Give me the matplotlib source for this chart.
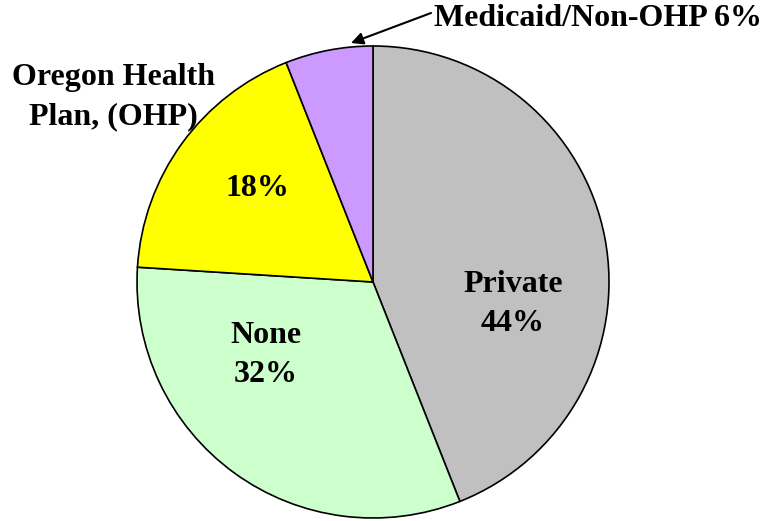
import matplotlib.pyplot as plt

# Health insurance coverage shares (%), clockwise from 12 o'clock
categories = ['Private', 'None', 'Oregon Health Plan, (OHP)', 'Medicaid/Non-OHP']
shares = [44, 32, 18, 6]
colors = ['#C0C0C0', '#CCFFCC', '#FFFF00', '#CC99FF']

plt.rcParams['font.family'] = ['Liberation Serif', 'DejaVu Serif']
plt.rcParams['font.weight'] = 'bold'

W, H = 764, 521
fig = plt.figure(figsize=(W / 100, H / 100), dpi=100)
ax = fig.add_axes([0, 0, 1, 1])

# pie drawn in pixel coordinates (y flipped, so counterclock=True reads clockwise)
cx, cy, r = 373, 282, 236
ax.pie(shares, colors=colors, startangle=-90, counterclock=True,
       center=(cx, cy), radius=r, frame=True,
       wedgeprops=dict(edgecolor='black', linewidth=1.2))
ax.set_xlim(0, W)
ax.set_ylim(H, 0)
ax.set_aspect('equal')
ax.axis('off')

fs = 23
ls = 1.45
ax.text(513, 304, f'{categories[0]}\n{shares[0]}%', ha='center', va='center',
        fontsize=fs, fontweight='bold', linespacing=ls)
ax.text(266, 355, f'{categories[1]}\n{shares[1]}%', ha='center', va='center',
        fontsize=fs, fontweight='bold', linespacing=ls)
ax.text(257, 188, f'{shares[2]}%', ha='center', va='center',
        fontsize=fs, fontweight='bold')
ax.text(113, 97, 'Oregon Health\nPlan, (OHP)', ha='center', va='center',
        fontsize=fs, fontweight='bold', linespacing=1.5)

ax.text(434, 18, f'{categories[3]} {shares[3]}%', ha='left', va='center',
        fontsize=fs, fontweight='bold')
ax.annotate('', xy=(351, 43), xytext=(431, 13),
            arrowprops=dict(arrowstyle='-|>', color='black', lw=1.5,
                            mutation_scale=18, shrinkA=0, shrinkB=0))

fig.savefig('out.png', dpi=100)
